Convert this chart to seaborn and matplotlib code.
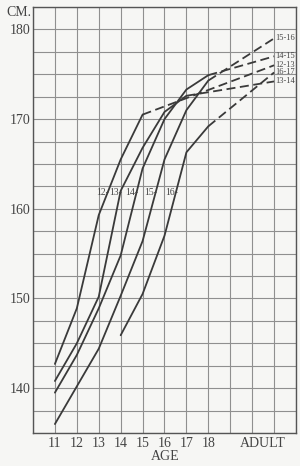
import numpy as np
import matplotlib
matplotlib.use("Agg")
import matplotlib.pyplot as plt
import seaborn as sns
from matplotlib.ticker import FixedLocator

sns.set_theme(style="white")
plt.rcParams['font.family'] = ['Liberation Serif', 'DejaVu Serif']

# ages at which heights were measured; the adult value sits at its own column
ages = [11, 12, 13, 14, 15, 16, 17, 18]
groups = ["12-13", "13-14", "14-15", "15-16", "16-17"]
start_ages = [11, 11, 11, 11, 14]

# measured (solid) part of each curve, in cm
solid_12_13 = [142.7, 148.9, 159.3, 165.5, 170.5]
solid_13_14 = [140.8, 145.0, 150.2, 162.0, 166.8, 170.8, 172.6]
solid_14_15 = [139.5, 143.7, 148.9, 154.8, 164.5, 170.0, 173.3, 174.9]
solid_15_16 = [136.0, 140.2, 144.4, 150.3, 156.4, 165.5, 171.0, 174.3]
solid_16_17 = [145.9, 150.5, 157.0, 166.3, 169.2]
solid_heights = [solid_12_13, solid_13_14, solid_14_15, solid_15_16, solid_16_17]

# adult height, reached by the dashed part
adult_heights = [176.0, 174.2, 177.0, 179.0, 175.2]

x_labels = ["11", "12", "13", "14", "15", "16", "17", "18", "ADULT"]
y_ticks = [140, 150, 160, 170, 180]

ADULT_X = 21
LINE_COLOR = "#3a3a3a"
TEXT_COLOR = "#444444"

fig = plt.figure(figsize=(3.0, 4.66), dpi=100)
fig.patch.set_facecolor("#f6f6f4")
ax = fig.add_axes([33 / 300, 1 - 433 / 466, 263 / 300, 426 / 466])
ax.set_facecolor("#f6f6f4")

for name, start, solid, adult in zip(groups, start_ages, solid_heights, adult_heights):
    i0 = ages.index(start)
    xs = ages[i0:i0 + len(solid)]
    sns.lineplot(x=xs, y=solid, ax=ax, color=LINE_COLOR, lw=1.3,
                 estimator=None, sort=False)
    sns.lineplot(x=[xs[-1], ADULT_X], y=[solid[-1], adult], ax=ax,
                 color=LINE_COLOR, lw=1.3, linestyle=(0, (5, 2.5)),
                 estimator=None, sort=False)
    # group name at the right end
    ax.text(ADULT_X + 0.04, adult, name, fontsize=6, color=TEXT_COLOR,
            ha="left", va="center")
    # short name where the curve crosses the label row
    x_cross = np.interp(161.5, solid, xs)
    ax.text(x_cross + 0.12, 161.8, name.split("-")[0] + "-", fontsize=7,
            color=TEXT_COLOR, ha="right", va="center")

ax.set_xlim(10, 22)
ax.set_ylim(135, 182.5)

ax.set_xticks(ages + [20.5])
ax.set_xticklabels(x_labels)
ax.set_yticks(y_ticks)
ax.set_yticklabels([str(v) for v in y_ticks])
ax.xaxis.remove_overlapping_locs = False
ax.yaxis.remove_overlapping_locs = False
ax.xaxis.set_minor_locator(FixedLocator(np.arange(10, 23)))
ax.yaxis.set_minor_locator(FixedLocator(np.arange(135, 183, 2.5)))
ax.grid(which="major", visible=False)
ax.grid(which="minor", color="#8f8f8f", lw=0.8)
ax.tick_params(which="both", length=0)
ax.tick_params(axis="x", pad=3, labelsize=10, labelcolor=TEXT_COLOR)
ax.tick_params(axis="y", pad=2, labelsize=10, labelcolor=TEXT_COLOR)
ax.set_xlabel("")
ax.set_ylabel("")
for s in ax.spines.values():
    s.set_color("#555555")
    s.set_linewidth(1.0)

fig.text(31 / 300, 1 - 13 / 466, "CM.", ha="right", va="center",
         fontsize=10, color=TEXT_COLOR)
fig.text(165 / 300, 1 - 457 / 466, "AGE", ha="center", va="center",
         fontsize=10, color=TEXT_COLOR)

fig.savefig("out.png", dpi=100, facecolor=fig.get_facecolor())
